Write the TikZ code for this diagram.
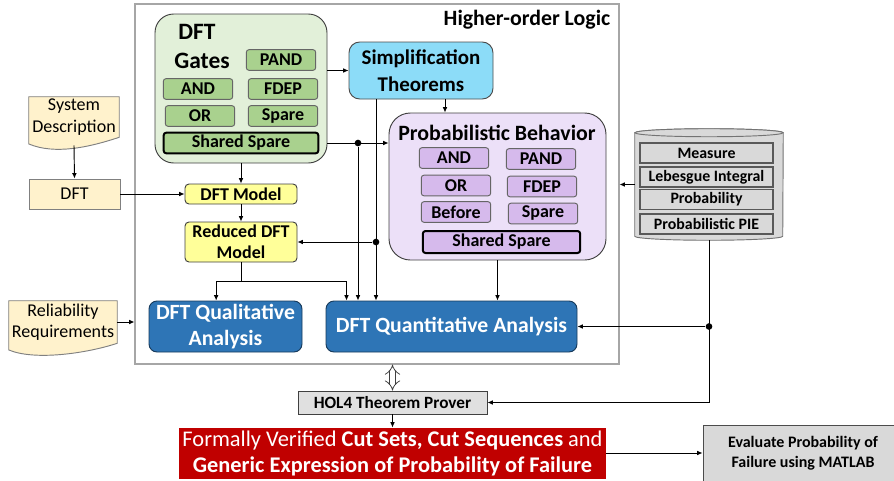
\documentclass[tikz,border=0pt]{standalone}
\usepackage{fontspec}
\setmainfont{Carlito}
\usetikzlibrary{arrows.meta, fit, backgrounds}

\definecolor{gatebg}{HTML}{E2F0D9}
\definecolor{gatefill}{HTML}{A9D18E}
\definecolor{simpfill}{HTML}{8CDCF8}
\definecolor{probbg}{HTML}{ECE0F8}
\definecolor{probfill}{HTML}{D6BAEC}
\definecolor{modelfill}{HTML}{FFFF99}
\definecolor{anafill}{HTML}{2E75B6}
\definecolor{dbfill}{HTML}{D9D9D9}
\definecolor{docfill}{HTML}{FFF2CC}
\definecolor{resfill}{HTML}{C00000}

\newcommand{\fsz}[2]{\fontsize{#1}{#2}\selectfont}

\begin{document}
\begin{tikzpicture}[x=0.75pt, y=-0.75pt,
    box/.style={draw=black!75, line width=0.7pt, rounded corners=3pt, align=center, inner sep=0pt},
    gate/.style={box, rounded corners=2pt, draw=black!60, font=\bfseries\fsz{13.5}{15}, minimum width=52pt, minimum height=15.5pt},
    shared/.style={gate, line width=1.5pt, draw=black, minimum width=116pt},
    model/.style={box, fill=modelfill, minimum width=84pt, minimum height=15pt, font=\bfseries\fsz{13.5}{16}},
    analysis/.style={box, fill=anafill, draw=anafill!50!black, rounded corners=6pt, text=white, minimum height=38.25pt, font=\bfseries\fsz{16.3}{19.5}},
    dbshape/.style={draw=black!55, line width=0.7pt, fill=dbfill},
    dbitem/.style={draw=black!65, line width=0.9pt, fill=dbfill, minimum width=99.75pt, minimum height=15pt, inner sep=0pt, font=\bfseries\fsz{11.9}{13}},
    doc/.style={align=center, inner sep=0pt, font=\fsz{13.5}{16}},
    frame/.style={draw=black!35, line width=0.8pt, inner sep=0pt},
    link/.style={-{Latex[length=4pt,width=3.5pt]}, line width=0.7pt},
    junction/.style={circle, fill=black, inner sep=0pt, minimum size=5pt},
    hollow/.style={{Implies[length=5pt,width=10pt]}-{Implies[length=5pt,width=10pt]}, draw=black!75, double=white, double distance=3.5pt, line width=0.6pt},
]
\useasboundingbox (0,0) rectangle (894,480);

% Higher-order logic frame
\coordinate (f1) at (135,4);
\coordinate (f2) at (619,364);
\node[frame, fit=(f1)(f2)] (hol) {};
\node[font=\bfseries\fsz{16.4}{18}, anchor=east] (holtitle) at (615,20) {Higher-order Logic};

% DFT gates
\coordinate (g1) at (155,14);
\coordinate (g2) at (327,163);
\node[box, fill=gatebg, rounded corners=14pt, fit=(g1)(g2)] (gates) {};
\node[font=\bfseries\fsz{17.6}{19}] (gtitle) at (197,32) {DFT};
\node[font=\bfseries\fsz{17.6}{19}] (gtitle2) at (202,61) {Gates};
\node[gate, fill=gatefill] (gPAND) at (281,60) {PAND};
\node[gate, fill=gatefill] (gAND) at (198,89) {AND};
\node[gate, fill=gatefill] (gFDEP) at (283,89) {FDEP};
\node[gate, fill=gatefill] (gOR) at (200,116) {OR};
\node[gate, fill=gatefill] (gSpare) at (283,116) {Spare};
\node[shared, fill=gatefill] (gShared) at (241,143) {Shared Spare};

% Simplification theorems
\node[box, fill=simpfill, draw=black!70, rounded corners=8pt, minimum width=108pt, minimum height=42.75pt,
      font=\bfseries\fsz{15.7}{20}] (simp) at (421,70.5) {Simplification\\Theorems};

% Probabilistic behavior
\coordinate (p1) at (389,113);
\coordinate (p2) at (606,260);
\node[box, fill=probbg, rounded corners=16pt, fit=(p1)(p2)] (prob) {};
\node[font=\bfseries\fsz{16.4}{18}] (ptitle) at (497,133) {Probabilistic Behavior};
\node[gate, fill=probfill] (pAND) at (454,158) {AND};
\node[gate, fill=probfill] (pPAND) at (541,159) {PAND};
\node[gate, fill=probfill] (pOR) at (456,185.5) {OR};
\node[gate, fill=probfill] (pFDEP) at (542,186.5) {FDEP};
\node[gate, fill=probfill] (pBefore) at (456,212) {Before};
\node[gate, fill=probfill] (pSpare) at (543,213.5) {Spare};
\node[shared, fill=probfill, minimum width=118pt, minimum height=16.5pt] (pShared) at (501.5,242) {Shared Spare};

% DFT models and analyses
\node[model] (model) at (241,194) {DFT Model};
\node[model, minimum height=30pt] (reduced) at (241,242) {Reduced DFT\\Model};
\node[analysis, minimum width=114.75pt] (qual) at (225.5,326.5) {DFT Qualitative\\Analysis};
\node[analysis, minimum width=188.25pt] (quant) at (451.5,326.5) {DFT Quantitative Analysis};

% Theories database
\coordinate (d1) at (635,129);
\coordinate (d2) at (783,240);
\node[fit=(d1)(d2), inner sep=0pt] (db) {};
\draw[dbshape] ([yshift=-3pt]db.north west) -- ([yshift=3pt]db.south west)
  arc[start angle=180, end angle=360, x radius=55.5pt, y radius=3pt]
  -- ([yshift=-3pt]db.north east)
  arc[start angle=0, end angle=180, x radius=55.5pt, y radius=3pt] -- cycle;
\draw[dbshape] ([yshift=-3pt]db.north) ellipse [x radius=55.5pt, y radius=3pt];
\node[dbitem] (measure) at (706.5,153) {Measure};
\node[dbitem] (lebesgue) at (706.5,177) {Lebesgue Integral};
\node[dbitem] (probty) at (706.5,199.5) {Probability};
\node[dbitem] (pie) at (706.5,224) {Probabilistic PIE};

% Inputs
\node[doc, minimum width=67.5pt, minimum height=30pt] (sysdesc) at (74,117) {System\\Description};
\node[box, fill=docfill, draw=black!50, rounded corners=0pt, minimum width=68.25pt, minimum height=22.5pt,
      font=\fsz{13.5}{16}] (dft) at (74.5,194) {DFT};
\node[doc, minimum width=81pt, minimum height=31.5pt] (relreq) at (63,322) {Reliability\\Requirements};
\begin{scope}[on background layer]
  \foreach \d in {sysdesc, relreq}
    \draw[fill=docfill, draw=black!50, line width=0.7pt] (\d.north west) -- (\d.north east) -- (\d.south east)
      .. controls +(-30,10) and +(26,11) .. ([yshift=-5pt]\d.south west) -- cycle;
\end{scope}

% Prover and results
\node[box, fill=black!12, rounded corners=0pt, minimum width=141.75pt, minimum height=17.25pt,
      font=\bfseries\fsz{12.9}{15}] (hol4) at (392.5,402.5) {HOL4 Theorem Prover};
\node[box, fill=resfill, draw=resfill, rounded corners=0pt, text=white, minimum width=320pt, minimum height=37.5pt,
      font=\fsz{16.8}{19.5}] (result) at (392.5,453)
      {Formally Verified \textbf{Cut Sets, Cut Sequences} and\\\textbf{Generic Expression of Probability of Failure}};
\node[box, fill=dbfill, draw=black!70, rounded corners=0pt, minimum width=150pt, minimum height=42pt,
      font=\bfseries\fsz{12}{15}] (evaluate) at (803,453) {Evaluate Probability of\\Failure using MATLAB};

% Arrows
\draw[link] ([yshift=-6pt]sysdesc.south) -- (dft.north);
\draw[link] (dft) -- (model);
\draw[link] (gates.south) -- (model.north);
\draw[link] (model) -- (reduced);
\draw[link] (gates.east |- simp.west) -- (simp.west);
\draw[link] ([xshift=18pt]simp.south) -- ([xshift=18pt]simp.south |- prob.north);
\draw[link] (gates.east |- gShared) -- (prob.west |- gShared);
\node[junction] (j1) at (358,143) {};
\node[junction] (j2) at (376,242) {};
\draw[link] (j1) -- (j1 |- quant.north);
\draw[link] (simp.south -| j2) -- (j2 |- quant.north);
\draw[link] (j2) -- (reduced.east);
\draw[link] (reduced.south) -- ++(0,19) -| ([xshift=-7pt]qual.north);
\draw[link] (reduced.south) -- ++(0,19) -| ([xshift=15.75pt]quant.north west);
\draw[link] (prob.south) -- (prob.south |- quant.north);
\draw[link] (db.west) -- (db.west -| hol.east);
\draw[link] (db.south) |- (hol4.east);
\node[junction] (j3) at (db.south |- quant.east) {};
\draw[link] (j3) -- (quant.east);
\draw[link] (relreq.east) -- (relreq.east -| hol.west);
\draw[hollow] (hol.south -| hol4.north) -- (hol4.north);
\draw[link] (hol4) -- (result);
\draw[link] (result.east) -- (result.east -| evaluate.west);
\end{tikzpicture}
\end{document}
